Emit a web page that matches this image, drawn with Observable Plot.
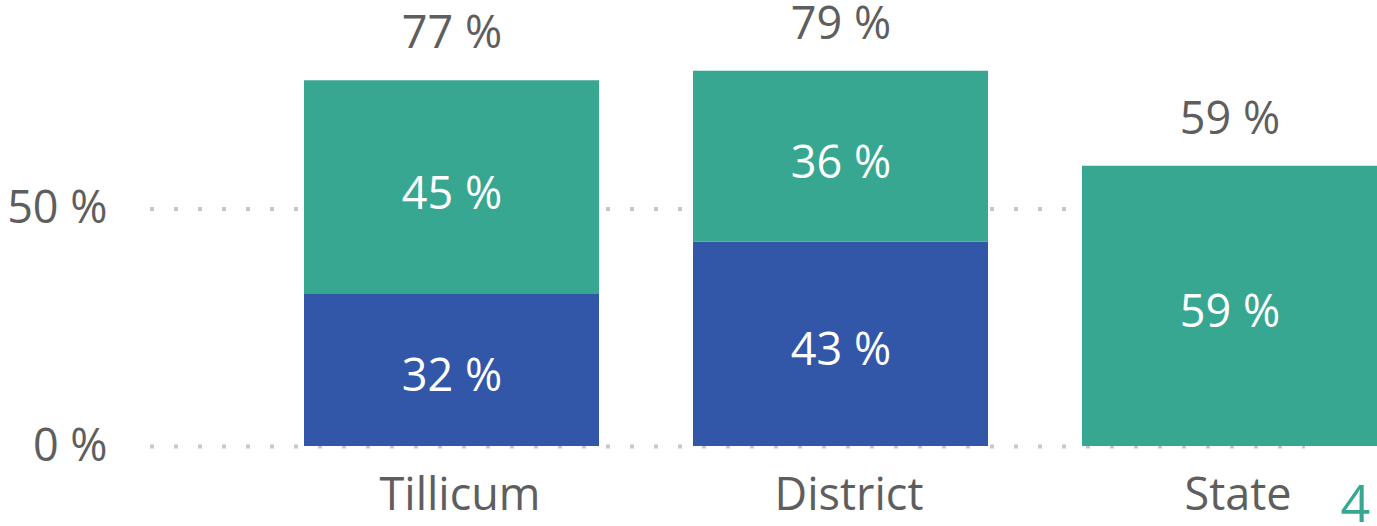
<!DOCTYPE html>
<html>
<head>
<meta charset="utf-8">
<script src="https://cdn.jsdelivr.net/npm/d3@7"></script>
<script src="https://cdn.jsdelivr.net/npm/@observablehq/plot@0.6"></script>
<style>
  html, body { margin: 0; padding: 0; background: #fff; overflow: hidden; }
  #chart svg { display: block; }
</style>
</head>
<body>
<div id="chart"></div>
<script>
const categories = ["Tillicum", "District", "State"];
const seriesNames = ["Lower", "Upper"];
const lowerValues = [32, 43, 0];
const upperValues = [45, 36, 59];
const totalValues = [77, 79, 59];
const yTicks = [0, 50];
const pageNumber = ["4"];

const colors = {Lower: "#3357A8", Upper: "#38A791"};

const rows = [];
categories.forEach((c, i) => {
  rows.push({cat: c, series: "Lower", value: lowerValues[i]});
  rows.push({cat: c, series: "Upper", value: upperValues[i]});
});
const totals = categories.map((c, i) => ({cat: c, value: totalValues[i]}));

const font = "'Open Sans', 'Noto Sans', sans-serif";
const textGray = "#5E5E5E";

const chart = Plot.plot({
  width: 1377,
  height: 526,
  marginLeft: 150,
  marginRight: 72,
  marginTop: 0,
  marginBottom: 80,
  style: {fontFamily: font, fontSize: "45px", color: textGray, background: "#fff", overflow: "hidden"},
  x: {domain: categories, range: [257.5, 1424.5], paddingInner: 0.2416, paddingOuter: 0.1208, label: null},
  y: {domain: [0, 50], range: [446, 208.5], label: null},
  color: {domain: seriesNames, range: seriesNames.map(s => colors[s])},
  marks: [
    Plot.ruleY(yTicks, {stroke: "#C8C8C8", strokeWidth: 4, strokeDasharray: "4,20"}),
    Plot.barY(rows.filter(d => d.value > 0), Plot.stackY({x: "cat", y: "value", fill: "series", z: "series", order: seriesNames})),
    Plot.text(rows.filter(d => d.value > 0), Plot.stackY({
      x: "cat", y: "value", z: "series", order: seriesNames,
      text: d => `${d.value} %`, fill: "#fff", fontSize: 45, dy: 6.5
    })),
    Plot.text(totals, {x: "cat", y: "value", text: d => `${d.value} %`, fill: textGray, fontSize: 45, dy: -47}),
    Plot.axisY(yTicks, {tickSize: 0, tickPadding: 43, tickFormat: d => `${d} %`, fontSize: 45, fill: textGray, label: null}),
    Plot.axisX({tickSize: 0, tickPadding: 32, dx: 8, fontSize: 45, fill: textGray, label: null}),
    Plot.text(pageNumber, {frameAnchor: "bottom-right", text: d => d, fill: "#38A791", fontSize: 52, textAnchor: "start", lineAnchor: "bottom", dx: 35, dy: 75})
  ]
});
document.getElementById("chart").appendChild(chart);
</script>
</body>
</html>
